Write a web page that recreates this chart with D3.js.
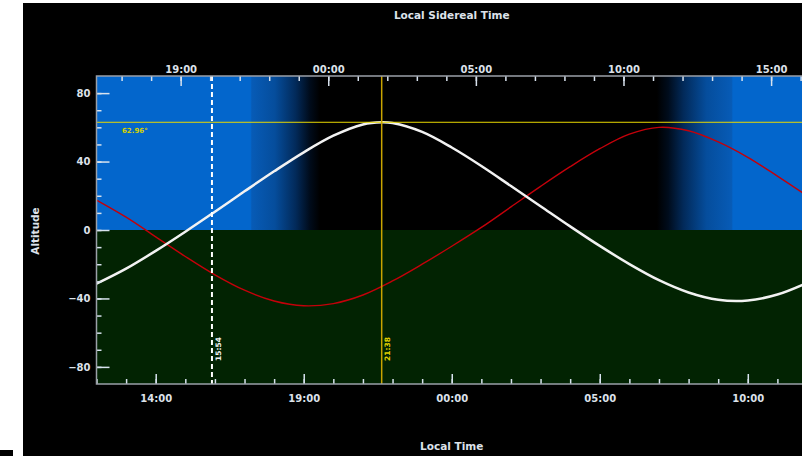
<!DOCTYPE html>
<html>
<head>
<meta charset="utf-8">
<script src="https://cdn.jsdelivr.net/npm/d3@7"></script>
<style>
  html, body { margin: 0; padding: 0; background: #ffffff; }
  svg { display: block; }
  text { font-family: "DejaVu Sans", sans-serif; font-weight: bold; }
</style>
</head>
<body>
<svg id="chart" width="802" height="456"></svg>
<script>
// Local time in hours (12 = noon, 24 = midnight, 36 = noon next day)
const targetTimes = [12, 13, 14, 15, 16, 17, 18, 19, 20, 21, 21.6333, 22, 23, 24, 25, 26, 27, 28, 29, 30, 31, 32, 33, 34, 35, 36];
// Altitude of the target (degrees)
const targetAlt = [-31.4, -22.6, -12.2, -1.0, 10.7, 22.6, 34.3, 45.4, 55.1, 61.7, 62.96, 62.5, 57.3, 48.2, 37.4, 25.7, 13.9, 2.1, -9.3, -19.9, -29.3, -36.5, -40.8, -41.2, -37.7, -30.9];

const moonTimes = [12, 13, 14, 15, 16, 17, 18, 19, 20, 21, 22, 23, 24, 25, 26, 27, 28, 29, 30, 31, 32, 33, 34, 35, 36];
// Altitude of the moon (degrees)
const moonAlt = [17.5, 7.5, -4.0, -15.5, -26.2, -35.2, -41.5, -44.3, -43.0, -38.0, -29.8, -20.0, -9.5, 1.5, 13.5, 25.5, 37.0, 47.5, 56.0, 60.0, 58.0, 51.5, 42.5, 31.5, 20.0];

// Twilight: [fully day, fully night] in the evening, [fully night, fully day] in the morning
const eveningTwilight = [17.2, 19.55];
const morningTwilight = [30.93, 33.5];

// Transit and current-time markers
const transitTime = 21 + 38 / 60;
const transitAlt = 62.96;
const nowTime = 15 + 54 / 60;
const transitLabel = "21:38";
const nowLabel = "15:54";
const altLabel = "62.96°";

// Axis ticks
const localTicks = [12, 13, 14, 15, 16, 17, 18, 19, 20, 21, 22, 23, 24, 25, 26, 27, 28, 29, 30, 31, 32, 33, 34, 35, 36];
const localLabelled = [14, 19, 24, 29, 34];
const siderealTicks = [17, 18, 19, 20, 21, 22, 23, 24, 25, 26, 27, 28, 29, 30, 31, 32, 33, 34, 35, 36, 37, 38, 39, 40];
const siderealLabelled = [19, 24, 29, 34, 39];
const altTicks = [-80, -70, -60, -50, -40, -30, -20, -10, 0, 10, 20, 30, 40, 50, 60, 70, 80];
const altLabelled = [-80, -40, 0, 40, 80];

// Sidereal time at local noon and sidereal rate
const lstAtNoon = 16.15;
const siderealRate = 1.00274;

const svg = d3.select("#chart");
const pLeft = 96.5, pRight = 807, pTop = 76, pBottom = 384;

const x = d3.scaleLinear().domain([12, 36]).range([pLeft, pRight]);
const xs = d3.scaleLinear()
  .domain([lstAtNoon, lstAtNoon + 24 * siderealRate])
  .range([pLeft, pRight]);
const y = d3.scaleLinear().domain([-90, 90]).range([pBottom, pTop]);

const hhmm = h => String(Math.floor(((h % 24) + 24) % 24)).padStart(2, "0") + ":00";

// Page background
svg.append("rect").attr("x", 23).attr("y", 3).attr("width", 779).attr("height", 453).attr("fill", "#000");
svg.append("rect").attr("x", 0).attr("y", 450).attr("width", 13).attr("height", 6).attr("fill", "#000");

const defs = svg.append("defs");
defs.append("clipPath").attr("id", "plotClip")
  .append("rect").attr("x", pLeft).attr("y", pTop).attr("width", pRight - pLeft).attr("height", pBottom - pTop);

// Sky gradient above the horizon: day blue fading through twilight to night
const dayBlue = "#0366cc";
const grad = defs.append("linearGradient").attr("id", "sky")
  .attr("gradientUnits", "userSpaceOnUse")
  .attr("x1", pLeft).attr("x2", pRight).attr("y1", 0).attr("y2", 0);
const frac = t => (x(t) - pLeft) / (pRight - pLeft);
function fadeStops(t0, t1, reverse) {
  const ramp = [[0, "#0366cc"], [0.02, "#075bb6"], [0.35, "#054d9c"], [0.65, "#022a5a"], [0.85, "#000c1c"], [1, "#000000"]];
  const pts = reverse ? ramp.map(([f, c]) => [1 - f, c]).reverse() : ramp;
  pts.forEach(([f, c]) => grad.append("stop").attr("offset", frac(t0 + f * (t1 - t0))).attr("stop-color", c));
}
grad.append("stop").attr("offset", 0).attr("stop-color", dayBlue);
fadeStops(eveningTwilight[0], eveningTwilight[1], false);
fadeStops(morningTwilight[0], morningTwilight[1], true);
grad.append("stop").attr("offset", 1).attr("stop-color", dayBlue);

const plot = svg.append("g").attr("clip-path", "url(#plotClip)");
plot.append("rect").attr("x", pLeft).attr("y", pTop).attr("width", pRight - pLeft).attr("height", y(0) - pTop).attr("fill", "url(#sky)");
plot.append("rect").attr("x", pLeft).attr("y", y(0)).attr("width", pRight - pLeft).attr("height", pBottom - y(0)).attr("fill", "#022302");

// Altitude curves
const line = d3.line().x(d => x(d[0])).y(d => y(d[1])).curve(d3.curveCatmullRom.alpha(0.5));
plot.append("path").datum(d3.zip(moonTimes, moonAlt))
  .attr("d", line).attr("fill", "none").attr("stroke", "#c4000a").attr("stroke-width", 1.4);
plot.append("path").datum(d3.zip(targetTimes, targetAlt))
  .attr("d", line).attr("fill", "none").attr("stroke", "#f2f2f2").attr("stroke-width", 2.5);

// Transit markers
plot.append("line").attr("x1", pLeft).attr("x2", pRight).attr("y1", y(transitAlt)).attr("y2", y(transitAlt))
  .attr("stroke", "#e8d800").attr("stroke-width", 1);
plot.append("line").attr("x1", x(transitTime)).attr("x2", x(transitTime)).attr("y1", pTop).attr("y2", pBottom)
  .attr("stroke", "#c9a400").attr("stroke-width", 1.5);
plot.append("line").attr("x1", x(nowTime)).attr("x2", x(nowTime)).attr("y1", pTop).attr("y2", pBottom)
  .attr("stroke", "#ffffff").attr("stroke-width", 2).attr("stroke-dasharray", "5,3");

svg.append("text").attr("x", 122).attr("y", y(transitAlt) + 11)
  .attr("font-size", 7).attr("fill", "#d6d200").text(altLabel);
svg.append("text").attr("transform", `translate(${x(transitTime) + 8},349) rotate(-90)`)
  .attr("text-anchor", "middle").attr("font-size", 7.5).attr("fill", "#e0d000").text(transitLabel);
svg.append("text").attr("transform", `translate(${x(nowTime) + 9},349) rotate(-90)`)
  .attr("text-anchor", "middle").attr("font-size", 7.5).attr("fill", "#f0f0f0").text(nowLabel);

// Axes
const tickColor = "#d8e2ee";
function styleAxis(g) {
  g.select(".domain").remove();
  g.selectAll(".tick line").attr("stroke", tickColor).attr("stroke-width", 1.5);
  g.selectAll(".tick text").attr("fill", "#dde2ea").attr("font-size", 10)
    .attr("font-family", "DejaVu Sans, sans-serif").attr("font-weight", "bold");
}

// bottom: local time, ticks pointing up into the plot
svg.append("g").attr("transform", `translate(0,${pBottom})`)
  .call(d3.axisTop(x).tickValues(localTicks).tickFormat("").tickSizeInner(5).tickSizeOuter(0)).call(styleAxis);
svg.append("g").attr("transform", `translate(0,${pBottom})`)
  .call(d3.axisTop(x).tickValues(localLabelled).tickFormat("").tickSizeInner(10).tickSizeOuter(0)).call(styleAxis);
svg.append("g").attr("transform", `translate(0,${pBottom + 11})`)
  .call(d3.axisBottom(x).tickValues(localLabelled).tickFormat(hhmm).tickSize(0).tickPadding(0)).call(styleAxis);

// top: local sidereal time, ticks pointing down into the plot
svg.append("g").attr("transform", `translate(0,${pTop})`)
  .call(d3.axisBottom(xs).tickValues(siderealTicks).tickFormat("").tickSizeInner(5).tickSizeOuter(0)).call(styleAxis);
svg.append("g").attr("transform", `translate(0,${pTop})`)
  .call(d3.axisBottom(xs).tickValues(siderealLabelled).tickFormat("").tickSizeInner(10).tickSizeOuter(0)).call(styleAxis);
svg.append("g").attr("transform", `translate(0,${pTop - 3})`)
  .call(d3.axisTop(xs).tickValues(siderealLabelled).tickFormat(hhmm).tickSize(0).tickPadding(0)).call(styleAxis);

// left: altitude, ticks pointing right into the plot
svg.append("g").attr("transform", `translate(${pLeft},0)`)
  .call(d3.axisRight(y).tickValues(altTicks).tickFormat("").tickSizeInner(5).tickSizeOuter(0)).call(styleAxis);
svg.append("g").attr("transform", `translate(${pLeft},0)`)
  .call(d3.axisRight(y).tickValues(altLabelled).tickFormat("").tickSizeInner(13).tickSizeOuter(0)).call(styleAxis);
svg.append("g").attr("transform", `translate(${pLeft - 6},0)`)
  .call(d3.axisLeft(y).tickValues(altLabelled).tickFormat(d3.format("d")).tickSize(0).tickPadding(0)).call(styleAxis);

// Plot frame
svg.append("rect").attr("x", pLeft).attr("y", pTop).attr("width", pRight - pLeft).attr("height", pBottom - pTop)
  .attr("fill", "none").attr("stroke", "#9aa0a8").attr("stroke-width", 1.5);

// Axis titles
svg.append("text").attr("x", (pLeft + pRight) / 2).attr("y", 19).attr("text-anchor", "middle")
  .attr("font-size", 10.5).attr("fill", "#dde2ea").text("Local Sidereal Time");
svg.append("text").attr("x", (pLeft + pRight) / 2).attr("y", 450).attr("text-anchor", "middle")
  .attr("font-size", 10.5).attr("fill", "#dde2ea").text("Local Time");
svg.append("text").attr("transform", "translate(39,231) rotate(-90)").attr("text-anchor", "middle")
  .attr("font-size", 10.5).attr("fill", "#dde2ea").text("Altitude");
</script>
</body>
</html>
